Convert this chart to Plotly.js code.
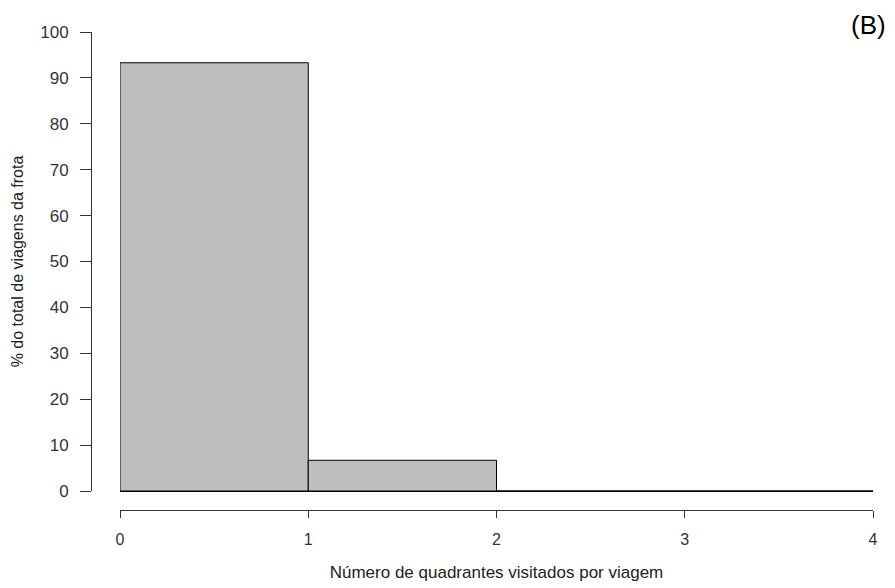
<!DOCTYPE html>
<html>
<head>
<meta charset="utf-8">
<script src="https://cdn.plot.ly/plotly-3.0.1.min.js"></script>
<style>html,body{margin:0;padding:0;background:#fff;}#chart{width:895px;height:588px;}</style>
</head>
<body>
<div id="chart"></div>
<script>
// Histogram bins (left edges, width 1) and percentages
const binStarts = [0, 1, 2, 3];
const binWidth = [1, 1, 1, 1];
const percentages = [93.3, 6.7, 0, 0];
const xTicks = [0, 1, 2, 3, 4];
const yTicks = [0, 10, 20, 30, 40, 50, 60, 70, 80, 90, 100];

const font = "Liberation Sans, Arial, sans-serif";

const trace = {
  type: 'bar',
  x: binStarts.map((s, i) => s + binWidth[i] / 2),
  y: percentages,
  width: binWidth,
  marker: {color: '#bebebe', line: {color: '#000', width: 1}},
  cliponaxis: false,
  hoverinfo: 'skip'
};

const W = 895, H = 588;
const L = 91, R = 873, T = 32, B = 510;
const x0px = 120, y0px = 491;

const layout = {
  width: W, height: H,
  margin: {l: L, r: W - R, t: T, b: H - B, pad: 0},
  paper_bgcolor: '#fff', plot_bgcolor: '#fff',
  showlegend: false,
  bargap: 0,
  xaxis: {
    domain: [(x0px - L) / (R - L), 1],
    range: [0, 4],
    anchor: 'free', position: 0,
    tickvals: xTicks, ticktext: xTicks.map(String),
    ticks: 'outside', ticklen: 7, tickwidth: 1, tickcolor: '#333',
    ticklabelstandoff: 8,
    showline: true, linecolor: '#333', linewidth: 1,
    showgrid: false, zeroline: false,
    tickfont: {family: font, size: 16, color: '#333'},
    title: {text: 'Número de quadrantes visitados por viagem', font: {family: font, size: 17, color: '#222'}, standoff: 18}
  },
  yaxis: {
    domain: [(B - y0px) / (B - T), 1],
    range: [0, 100],
    anchor: 'free', position: 0,
    tickvals: yTicks, ticktext: yTicks.map(String),
    ticks: 'outside', ticklen: 11, tickwidth: 1, tickcolor: '#333',
    ticklabelstandoff: 8,
    showline: true, linecolor: '#333', linewidth: 1,
    showgrid: false,
    zeroline: true, zerolinecolor: '#000', zerolinewidth: 1,
    tickfont: {family: font, size: 17, color: '#333'},
    title: {text: '% do total de viagens da frota', font: {family: font, size: 16, color: '#222'}, standoff: 11}
  },
  annotations: [{
    text: '(B)', xref: 'paper', yref: 'paper', x: (888 - L) / (R - L), y: 1 + (T - 25) / (B - T),
    xanchor: 'right', yanchor: 'middle', showarrow: false,
    font: {family: font, size: 26, color: '#000'}
  }]
};

Plotly.newPlot('chart', [trace], layout, {displayModeBar: false, staticPlot: true});
</script>
</body>
</html>
